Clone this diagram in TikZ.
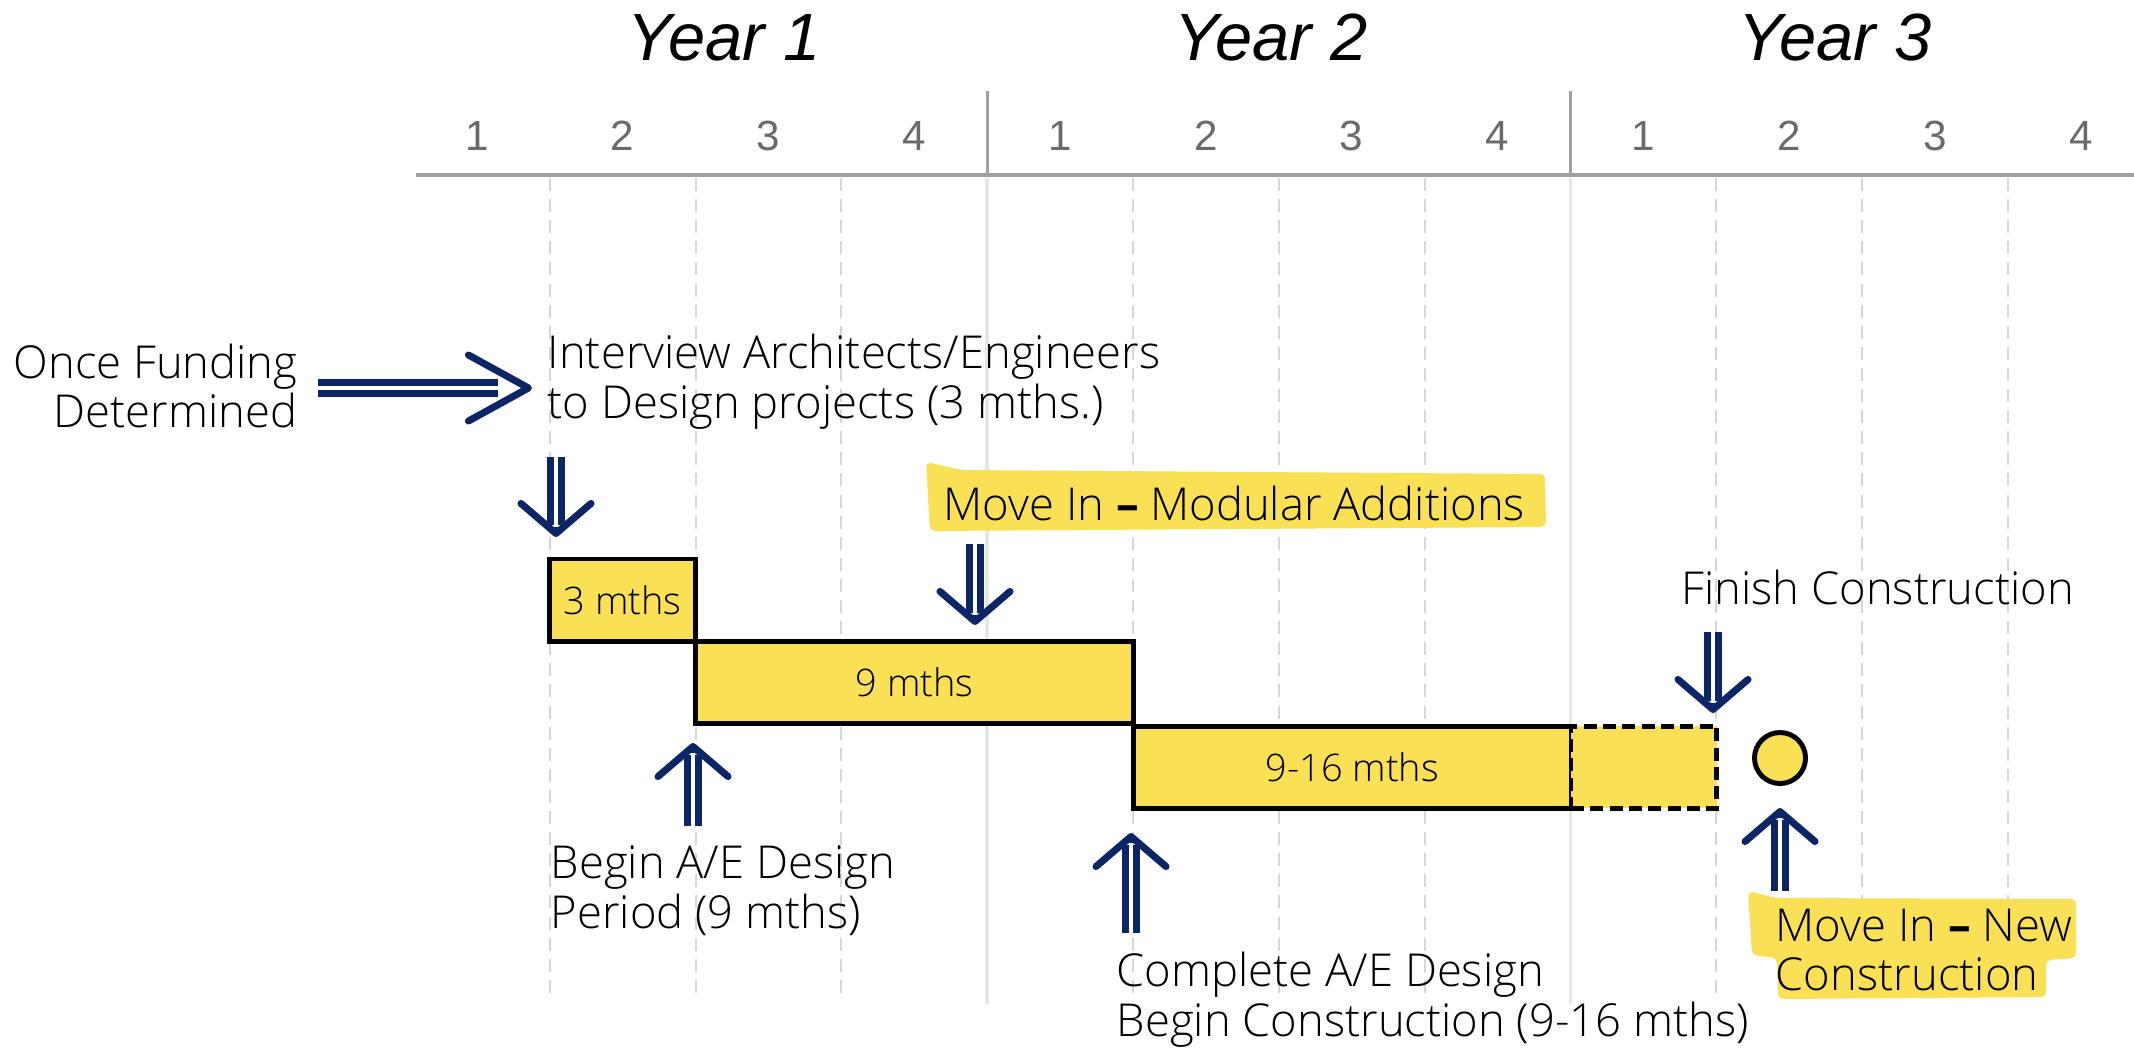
\documentclass[tikz,border=0pt]{standalone}
\usepackage{fontspec}
\IfFontExistsTF{Open Sans Light}{\setmainfont{Open Sans Light}[BoldFont={Open Sans Bold}]}{\setmainfont{Open Sans}}
\newfontfamily\helv{Liberation Sans}
\usetikzlibrary{arrows.meta,calc,positioning}

\definecolor{hl}{HTML}{F9E055}
\definecolor{navy}{HTML}{0B2566}
\definecolor{gridgray}{HTML}{D6D6D6}
\definecolor{yeargray}{HTML}{E6E6E6}
\definecolor{axisgray}{HTML}{A0A0A0}
\definecolor{qgray}{HTML}{6A6A6A}

\begin{document}
\begin{tikzpicture}[x=0.01cm,y=-0.01cm,
lbl/.style={inner sep=0,font=\fontsize{12.9}{14.2}\selectfont},
qlbl/.style={anchor=base,inner sep=0,text=qgray,font=\helv\fontsize{12}{14}\selectfont},
yearlbl/.style={anchor=base,inner sep=0,font=\helv\itshape\fontsize{19}{22}\selectfont},
bar/.style={draw,line width=1.4pt,fill=hl,inner sep=0,outer sep=0,minimum height=0.82cm,font=\fontsize{10.8}{12}\selectfont},
barext/.style={bar,dash pattern=on 3.7pt off 1.8pt},
milestone/.style={circle,draw,line width=1.4pt,fill=hl,minimum size=0.51cm,inner sep=0},
shaft/.style={draw=navy,line width=2pt,double=white,double distance=0.9pt},
head/.style={draw=navy,line width=2pt,-{Straight Barb[length=0.3cm,width=0.7cm,round]}},
qline/.style={draw=gridgray,line width=0.6pt,dash pattern=on 3.7pt off 2.3pt},
yline/.style={draw=yeargray,line width=1pt},
ytick/.style={draw=axisgray,line width=0.8pt},
axis/.style={draw=axisgray,line width=1.4pt}]
\useasboundingbox (0,0) rectangle (2134,1051);

% time grid
\foreach \k in {1,2,3,5,6,7,9,10,11}
  \draw[qline] (404+145.8*\k,178) -- (404+145.8*\k,1000);
\foreach \k in {4,8} {
  \draw[yline] (404+145.8*\k,178) -- (404+145.8*\k,1004);
  \draw[ytick] (404+145.8*\k,91) -- (404+145.8*\k,175);
}
\draw[axis] (416,175) -- (2134,175);
\foreach \k in {0,...,11} {
  \pgfmathtruncatemacro\qn{mod(\k,4)+1}
  \node[qlbl] (q\k) at (404+145.8*\k+72.9,150) {\qn};
}
\node[yearlbl] (year1) at (724,60) {Year 1};
\node[yearlbl] (year2) at (1271,60) {Year 2};
\node[yearlbl] (year3) at (1835,60) {Year 3};

% bars
\node[bar,minimum width=1.458cm] (box1) at (622.7,600) {3 mths};
\node[bar,anchor=north west,minimum width=4.374cm] (box2) at (box1.south east) {9 mths};
\node[bar,anchor=north west,minimum width=4.374cm] (box3) at ([yshift=-0.03cm]box2.south east) {9-16 mths};
\node[barext,anchor=west,minimum width=1.458cm] (box4) at (box3.east) {};
\node[milestone] (done) at (1780,758) {};

% highlighter
\fill[hl,rounded corners=0.05cm] (926,462) -- (962,470) -- (1545,474) -- (1546,527) -- (930,531) -- cycle;
\fill[hl,rounded corners=0.05cm] (1748,891) -- (1776,898) -- (2076,899) -- (2076,958) -- (2046,960) -- (2046,997) -- (1778,999) -- (1777,958) -- (1752,955) -- cycle;

% labels
\node[lbl,anchor=east,align=right] (fund) at (298,386) {Once Funding\\Determined};
\node[lbl,anchor=west,align=left] (interview) at (547,382) {Interview Architects/Engineers\\to Design projects (3 mths.)};
\node[lbl,anchor=west] (modular) at (943,503) {Move In \textbf{--} Modular Additions};
\node[lbl,anchor=west] (finish) at (1681,587) {Finish Construction};
\node[lbl,anchor=west,align=left] (beginae) at (550,891) {Begin A/E Design\\Period (9 mths)};
\node[lbl,anchor=west,align=left] (complete) at (1116,1000) {Complete A/E Design\\Begin Construction (9-16 mths)};
\node[lbl,anchor=west,align=left] (movenew) at (1775,950) {Move In \textbf{--} New\\Construction};

% hand drawn arrows
\coordinate (t1) at (532,388);
\coordinate (t2) at (556,537);
\coordinate (t3) at (975,625);
\coordinate (t4) at (1713,713);
\coordinate (t5) at (693,743);
\coordinate (t6) at (1131,833);
\coordinate (t7) at (1780,808);
\draw[shaft,shorten <=0.2cm,shorten >=0.34cm] (fund.east |- t1) -- (t1);
\draw[head,-{Straight Barb[length=0.6cm,width=0.66cm,round]}] ($(t1)+(-10,0)$) -- (t1);
\draw[shaft,shorten <=0.27cm,shorten >=0.12cm] (interview.south -| t2) -- (t2);
\draw[head] ($(t2)+(0,-10)$) -- (t2);
\draw[shaft,shorten <=0.23cm,shorten >=0.12cm] (modular.south -| t3) -- (t3);
\draw[head] ($(t3)+(0,-10)$) -- (t3);
\draw[shaft,shorten <=0.27cm,shorten >=0.12cm] (finish.south -| t4) -- (t4);
\draw[head] ($(t4)+(0,-10)$) -- (t4);
\draw[shaft,shorten <=0.19cm,shorten >=0.12cm] (beginae.north -| t5) -- (t5);
\draw[head] ($(t5)+(0,10)$) -- (t5);
\draw[shaft,shorten <=0.19cm,shorten >=0.12cm] (complete.north -| t6) -- (t6);
\draw[head] ($(t6)+(0,10)$) -- (t6);
\draw[shaft,shorten <=0.17cm,shorten >=0.12cm] (movenew.north -| t7) -- (t7);
\draw[head] ($(t7)+(0,10)$) -- (t7);
\end{tikzpicture}
\end{document}
